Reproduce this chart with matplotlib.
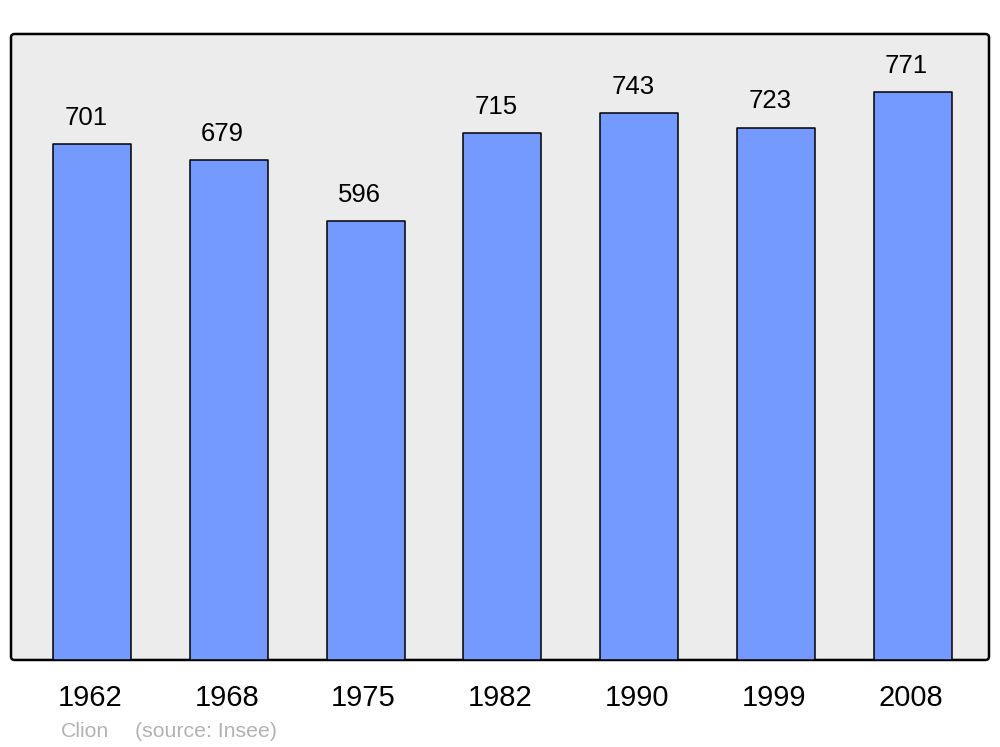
import matplotlib
matplotlib.use("Agg")
import matplotlib.pyplot as plt
from matplotlib.patches import FancyBboxPatch

plt.rcParams["font.family"] = ["Liberation Sans", "DejaVu Sans"]

years = ["1962", "1968", "1975", "1982", "1990", "1999", "2008"]
population = [701, 679, 596, 715, 743, 723, 771]

fig = plt.figure(figsize=(10, 7.47), dpi=100)
ax = fig.add_axes([0.011, 0.1165, 0.978, 0.838])
ax.set_xlim(-0.592, 6.558)
ax.set_ylim(0, 850)
ax.set_facecolor("none")
for s in ax.spines.values():
    s.set_visible(False)
ax.set_xticks([])
ax.set_yticks([])

# rounded frame
frame = FancyBboxPatch((0, 0), 1, 1, boxstyle="round,pad=0,rounding_size=0.004",
                       transform=ax.transAxes, facecolor="#ececec", edgecolor="black",
                       linewidth=1.8, zorder=0, clip_on=False, mutation_aspect=1.3)
ax.add_patch(frame)

xPos = range(len(years))
bars = ax.bar(xPos, population, 0.57, color="#7499ff", edgecolor="black",
              linewidth=1.1, zorder=2)
for b in bars:
    b.set_joinstyle("round")

for x, v in zip(xPos, population):
    ax.text(x - 0.045, v + 26, str(v), ha="center", va="baseline", fontsize=18.5, zorder=3)

for x, y in zip(xPos, years):
    ax.text(x - 0.015, -0.0735, y, ha="center", va="baseline", fontsize=21,
            transform=ax.get_xaxis_transform())

fig.text(0.061, 0.0134, "Clion", color="#b3b3b3", fontsize=15.3, va="baseline")
fig.text(0.135, 0.0134, "(source: Insee)", color="#b3b3b3", fontsize=15.3, va="baseline")

fig.savefig("out.png", dpi=100)
